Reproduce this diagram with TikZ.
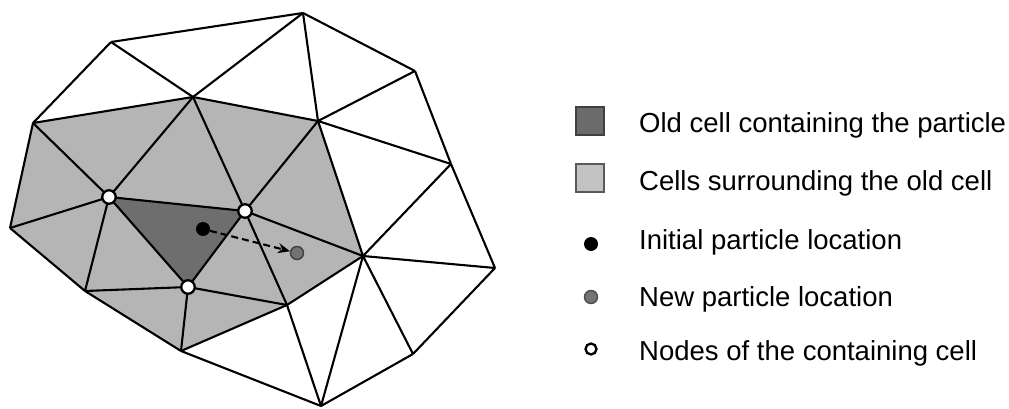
\documentclass[tikz,border=0pt]{standalone}
\usepackage{fontspec}
\setmainfont{Liberation Sans}
\usepackage{tikz}
\usetikzlibrary{arrows.meta}

\definecolor{cellold}{gray}{0.43}
\definecolor{cellnear}{gray}{0.71}

\begin{document}
\begin{tikzpicture}[x=1pt, y=-1pt, >={Stealth[length=12pt, width=10pt]},
  font=\fontsize{27.5}{32}\selectfont,
  edge/.style={line width=2.1pt, line join=round},
  vert/.style={circle, draw, fill=white, line width=2.3pt, minimum size=13.5pt, inner sep=0pt},
  dot/.style={circle, minimum size=14pt, inner sep=0pt},
  sq/.style={draw, line width=1.3pt, minimum size=28pt, inner sep=0pt},
  lab/.style={anchor=base west, inner sep=0pt},
]
  \useasboundingbox (0,0) rectangle (1009,409);

  % mesh vertices
  \coordinate (v1) at (111,42);   \coordinate (v2) at (303,13);
  \coordinate (v3) at (415,71);   \coordinate (v4) at (33,123);
  \coordinate (v5) at (193,97);   \coordinate (v6) at (318,121);
  \coordinate (v7) at (451,164);  \coordinate (v8) at (10,228);
  \coordinate (v9) at (109,197);  \coordinate (v10) at (245,211);
  \coordinate (v11) at (363,256); \coordinate (v12) at (495,268);
  \coordinate (v13) at (85,291);  \coordinate (v14) at (188,287);
  \coordinate (v15) at (287,305); \coordinate (v16) at (181,351);
  \coordinate (v17) at (413,354); \coordinate (v18) at (321,406);

  \fill[cellnear] (v4) -- (v5) -- (v6) -- (v11) -- (v15) -- (v16) -- (v13) -- (v8) -- cycle;
  \fill[cellold] (v9) -- (v10) -- (v14) -- cycle;

  \foreach \a/\b in {v1/v2, v2/v3, v3/v7, v7/v12, v12/v17, v17/v18, v18/v16, v16/v13,
      v13/v8, v8/v4, v4/v1, v1/v5, v2/v5, v2/v6, v3/v6, v6/v7, v4/v5, v5/v6, v4/v9,
      v5/v9, v5/v10, v6/v10, v6/v11, v7/v11, v11/v12, v11/v17, v11/v18, v11/v15,
      v10/v11, v10/v15, v15/v18, v15/v16, v14/v15, v8/v9, v9/v13, v13/v14, v14/v16,
      v9/v14, v9/v10, v10/v14}
    \draw[edge] (\a) -- (\b);

  % nodes of the containing cell
  \node[vert] (n1) at (v9) {};
  \node[vert] (n2) at (v10) {};
  \node[vert] (n3) at (v14) {};

  % particle move
  \node[dot, fill=black] (p0) at (203,229) {};
  \node[dot, draw=black!75, line width=1.4pt, fill=black!55, minimum size=13pt] (p1) at (297,253) {};
  \draw[->, line width=2.1pt, dash pattern=on 7pt off 4pt] (p0) -- (p1);

  % legend
  \node[sq, draw=black!75, fill=black!58] (k1) at (590,121) {};
  \node[sq, draw=black!65, fill=black!24] (k2) at (590,178) {};
  \node[dot, fill=black] (k3) at (591,244) {};
  \node[dot, draw=black!70, line width=1.4pt, fill=black!55, minimum size=13pt] (k4) at (591,297) {};
  \node[vert, minimum size=11pt] (k5) at (591,349) {};

  \node[lab] (t1) at (639,132) {Old cell containing the particle};
  \node[lab] (t2) at (639,190) {Cells surrounding the old cell};
  \node[lab] (t3) at (639,249) {Initial particle location};
  \node[lab] (t4) at (639,306) {New particle location};
  \node[lab] (t5) at (639,360) {Nodes of the containing cell};
\end{tikzpicture}
\end{document}
